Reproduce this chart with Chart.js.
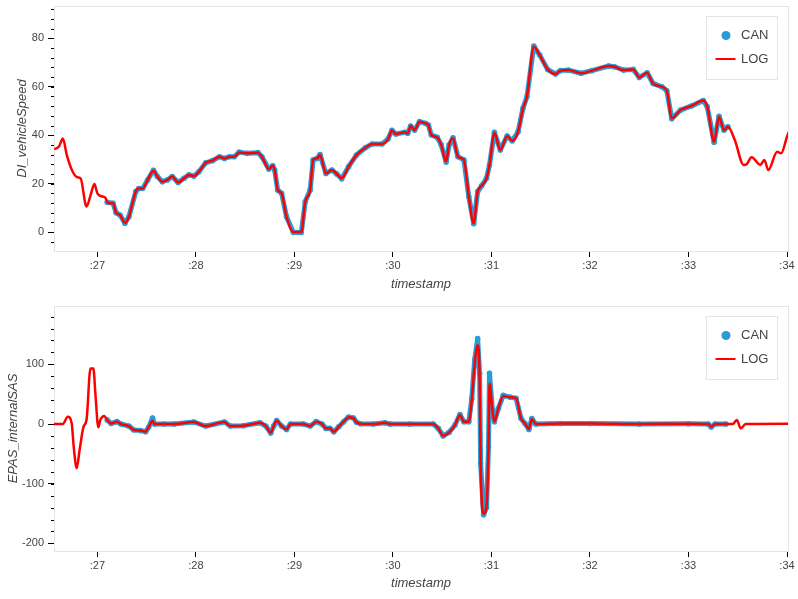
<!DOCTYPE html>
<html>
<head>
<meta charset="utf-8">
<script src="https://cdn.jsdelivr.net/npm/chart.js@4.4.1/dist/chart.umd.min.js"></script>
<style>
  body { margin: 0; background: #fff; }
  canvas { display: block; }
</style>
</head>
<body>
<canvas id="speedChart" width="798" height="300"></canvas>
<canvas id="sasChart" width="798" height="299"></canvas>
<script>
// seconds past the minute
const xTickValues = [27, 28, 29, 30, 31, 32, 33, 34];
const xTickLabels = [":27", ":28", ":29", ":30", ":31", ":32", ":33", ":34"];

const speedTicks = [0, 20, 40, 60, 80];
const sasTicks = [-200, -100, 0, 100];

// DI_vehicleSpeed, LOG
const logSpeedTime = [26.56, 26.61, 26.65, 26.69, 26.75, 26.80, 26.83, 26.89, 26.93, 26.97, 27.00, 27.03, 27.08, 27.11, 27.16, 27.19, 27.23, 27.28, 27.32, 27.39, 27.42, 27.46, 27.51, 27.57, 27.61, 27.66, 27.71, 27.76, 27.82, 27.88, 27.93, 27.98, 28.03, 28.10, 28.17, 28.24, 28.29, 28.34, 28.39, 28.44, 28.52, 28.63, 28.67, 28.74, 28.78, 28.80, 28.83, 28.87, 28.92, 28.99, 29.07, 29.11, 29.16, 29.19, 29.23, 29.26, 29.32, 29.38, 29.43, 29.48, 29.55, 29.63, 29.72, 29.79, 29.89, 29.95, 29.99, 30.03, 30.12, 30.15, 30.18, 30.22, 30.27, 30.33, 30.36, 30.39, 30.45, 30.49, 30.54, 30.57, 30.61, 30.66, 30.72, 30.77, 30.82, 30.86, 30.90, 30.95, 30.98, 31.03, 31.09, 31.16, 31.21, 31.27, 31.32, 31.36, 31.43, 31.49, 31.57, 31.65, 31.70, 31.78, 31.91, 32.02, 32.19, 32.25, 32.34, 32.44, 32.50, 32.58, 32.64, 32.73, 32.78, 32.83, 32.92, 33.03, 33.15, 33.19, 33.26, 33.31, 33.36, 33.40, 33.47, 33.56, 33.59, 33.64, 33.73, 33.77, 33.81, 33.90, 33.94, 34.00, 34.04];
const logSpeed = [34.2, 35.3, 38.6, 31.8, 24.9, 22.6, 22.2, 10.5, 15.0, 19.8, 16.0, 14.9, 14.2, 11.9, 11.9, 8.0, 7.0, 3.8, 6.3, 16.7, 18.0, 18.0, 21.5, 25.3, 22.9, 20.8, 21.5, 22.9, 20.5, 22.2, 23.6, 23.1, 24.9, 28.6, 29.5, 31.1, 30.4, 31.1, 31.1, 32.9, 32.5, 32.8, 31.1, 26.0, 27.4, 25.6, 17.4, 16.0, 6.3, 0, 0, 12.5, 17.4, 29.8, 30.4, 31.8, 24.2, 25.6, 24.0, 22.2, 27.0, 31.8, 34.8, 36.4, 36.4, 38.4, 41.9, 40.5, 41.2, 40.8, 43.8, 42.1, 45.6, 44.9, 44.2, 40.1, 39.1, 36.0, 29.1, 36.0, 38.7, 31.1, 29.8, 14.6, 3.6, 16.7, 19.1, 22.2, 27.7, 41.0, 33.9, 39.7, 37.7, 41.4, 51.1, 55.9, 76.6, 73.1, 67.2, 65.3, 66.7, 66.9, 65.6, 66.7, 68.6, 68.3, 66.9, 67.2, 63.9, 65.8, 61.4, 60.0, 58.4, 47.0, 50.4, 52.1, 54.3, 51.8, 37.3, 47.6, 42.1, 43.5, 38.0, 27.7, 28.0, 30.9, 27.7, 29.8, 25.6, 33.2, 32.5, 39.4, 43.5];

// DI_vehicleSpeed, CAN
const canSpeedTime = [27.10, 27.16, 27.19, 27.23, 27.28, 27.32, 27.39, 27.42, 27.46, 27.51, 27.57, 27.61, 27.66, 27.71, 27.76, 27.82, 27.88, 27.93, 27.98, 28.03, 28.10, 28.17, 28.24, 28.29, 28.34, 28.39, 28.44, 28.52, 28.63, 28.67, 28.74, 28.78, 28.80, 28.83, 28.87, 28.92, 28.99, 29.07, 29.11, 29.16, 29.19, 29.23, 29.26, 29.32, 29.38, 29.43, 29.48, 29.55, 29.63, 29.72, 29.79, 29.89, 29.95, 29.99, 30.03, 30.12, 30.15, 30.18, 30.22, 30.27, 30.33, 30.36, 30.39, 30.45, 30.49, 30.54, 30.57, 30.61, 30.66, 30.72, 30.77, 30.82, 30.86, 30.90, 30.95, 30.98, 31.03, 31.09, 31.16, 31.21, 31.27, 31.32, 31.36, 31.43, 31.49, 31.57, 31.65, 31.70, 31.78, 31.91, 32.02, 32.19, 32.25, 32.34, 32.44, 32.50, 32.58, 32.64, 32.73, 32.78, 32.83, 32.92, 33.03, 33.15, 33.19, 33.26, 33.31, 33.36, 33.40];
const canSpeed = [12.3, 11.9, 8.0, 7.0, 3.6, 6.3, 16.7, 18.0, 18.0, 21.5, 25.5, 22.9, 20.8, 21.5, 22.9, 20.5, 22.2, 23.6, 23.1, 24.9, 28.6, 29.5, 31.1, 30.4, 31.1, 31.1, 33.0, 32.5, 32.8, 31.1, 26.0, 27.4, 25.6, 17.4, 16.0, 6.3, -0.2, -0.2, 12.5, 17.4, 29.8, 30.4, 32.0, 24.2, 25.6, 24.0, 22.0, 27.0, 31.8, 34.8, 36.4, 36.4, 38.4, 42.0, 40.5, 41.2, 40.8, 43.8, 42.1, 45.6, 44.9, 44.2, 40.1, 39.1, 36.0, 28.9, 36.0, 38.9, 31.1, 29.8, 14.6, 3.4, 16.7, 19.1, 22.2, 27.7, 41.2, 33.9, 39.7, 37.7, 41.4, 51.1, 55.9, 76.8, 73.1, 67.2, 65.3, 66.7, 66.9, 65.6, 66.7, 68.6, 68.3, 66.9, 67.2, 63.9, 65.8, 61.4, 60.0, 58.4, 46.8, 50.4, 52.1, 54.3, 51.8, 37.1, 47.8, 42.1, 43.5];

// EPAS_internalSAS, LOG
const logSasTime = [26.56, 26.65, 26.70, 26.74, 26.76, 26.79, 26.82, 26.86, 26.89, 26.93, 26.96, 26.98, 27.01, 27.03, 27.07, 27.10, 27.14, 27.20, 27.24, 27.32, 27.37, 27.44, 27.49, 27.52, 27.56, 27.58, 27.68, 27.78, 27.98, 28.10, 28.29, 28.35, 28.48, 28.65, 28.71, 28.76, 28.79, 28.82, 28.87, 28.92, 28.96, 29.09, 29.16, 29.22, 29.28, 29.32, 29.36, 29.40, 29.45, 29.50, 29.55, 29.60, 29.63, 29.67, 29.80, 29.92, 29.97, 30.17, 30.41, 30.46, 30.51, 30.57, 30.63, 30.68, 30.72, 30.77, 30.80, 30.83, 30.86, 30.88, 30.89, 30.92, 30.95, 30.97, 30.98, 31.01, 31.03, 31.07, 31.12, 31.19, 31.25, 31.30, 31.34, 31.38, 31.41, 31.45, 31.70, 32.00, 32.50, 33.00, 33.20, 33.23, 33.27, 33.45, 33.49, 33.53, 33.58, 34.02];
const logSas = [0, 0, 12.3, 1, -38, -74, -43.5, -4.5, 6.7, 93, 93, 51, -5.6, 6.7, 13.4, 6.7, 1, 4, 0, -3.4, -10, -11, -12.8, -5.6, 5, 0, 0, 0, 3.4, -3.4, 3.4, -3.4, -3, 2.2, -3.4, -14.5, -3.4, 5.6, -3.4, -8.9, 0, 0, -3.4, 3.9, 0, -7.3, -7, -12.8, -4.5, 3.9, 11.2, 10, 3, 0.5, 0, 2, 0, 0, 0, -7.3, -19.5, -14, -1.7, 15, 3.9, 3.9, 40, 101.6, 132, 79, -66, -150, -138, -38, 68, 23.5, 3.9, 26, 47, 44.7, 43, 9.5, 1, -8.4, 8.4, 0, 1, 1, 0, 0.5, 0, -4.5, 0, 0, 6.7, -7.3, 0, 0.5];

// EPAS_internalSAS, CAN
const canSasTime = [27.10, 27.14, 27.20, 27.24, 27.32, 27.37, 27.44, 27.49, 27.52, 27.56, 27.58, 27.68, 27.78, 27.98, 28.10, 28.29, 28.35, 28.48, 28.65, 28.71, 28.76, 28.79, 28.82, 28.87, 28.92, 28.96, 29.09, 29.16, 29.22, 29.28, 29.32, 29.36, 29.40, 29.45, 29.50, 29.55, 29.60, 29.63, 29.67, 29.80, 29.92, 29.97, 30.17, 30.41, 30.46, 30.51, 30.57, 30.63, 30.68, 30.72, 30.77, 30.80, 30.83, 30.86, 30.88, 30.89, 30.92, 30.95, 30.97, 30.98, 31.01, 31.03, 31.07, 31.12, 31.19, 31.25, 31.30, 31.34, 31.38, 31.41, 31.45, 31.70, 32.00, 32.50, 33.00, 33.20, 33.23, 33.27, 33.38];
const canSas = [6.7, 1, 4, 0, -3.4, -10, -11, -12.8, -5.6, 10, 0, 0, 0, 3.4, -3.4, 3.4, -3.4, -3, 2.2, -3.4, -15, -3.4, 6, -3.4, -9, 0, 0, -3.4, 4, 0, -7.3, -7, -13, -4.5, 3.9, 11.5, 10, 3, 0.5, 0, 2, 0, 0, 0, -7.3, -20, -14, -1.7, 16, 3.9, 3.9, 42, 108, 143, 85, -66, -152, -140, -38, 85, 23.5, 3.9, 26, 48, 45, 43, 9.5, 1, -9, 9, 0, 1, 1, 0, 0.5, 0, -5, 0, 0];

const canColor = "#2b9bd7";
const logColor = "#ff0000";

function pts(xs, ys) {
  return xs.map((x, i) => ({ x: x, y: ys[i] }));
}

Chart.defaults.font.family = "'Liberation Sans', Arial, Helvetica, sans-serif";
Chart.defaults.color = "#444";

// outline, minor ticks and the boxed legend
const bokehLook = {
  id: "bokehLook",
  beforeDatasetsDraw(chart, args, opts) {
    const a = chart.chartArea;
    const ctx = chart.ctx;
    ctx.save();
    ctx.strokeStyle = "#e5e5e5";
    ctx.lineWidth = 1;
    ctx.strokeRect(a.left + 0.5, a.top + 0.5, a.right - a.left, a.bottom - a.top);
    ctx.restore();
  },
  afterDraw(chart, args, opts) {
    const ctx = chart.ctx;
    const y = chart.scales.y;
    const a = chart.chartArea;
    ctx.save();
    ctx.strokeStyle = "#000";
    ctx.lineWidth = 1;
    for (let v = opts.minorFrom; v <= opts.minorTo; v += opts.minorStep) {
      const py = Math.round(y.getPixelForValue(v)) + 0.5;
      ctx.beginPath();
      ctx.moveTo(a.left - 3, py);
      ctx.lineTo(a.left, py);
      ctx.stroke();
    }
    // legend
    const bx = a.right - 81.5, by = a.top + 10.5;
    ctx.fillStyle = "#fff";
    ctx.fillRect(bx, by, 71, 63);
    ctx.strokeStyle = "#e5e5e5";
    ctx.strokeRect(bx, by, 71, 63);
    ctx.fillStyle = canColor;
    ctx.beginPath();
    ctx.arc(bx + 19.5, by + 19, 4.5, 0, Math.PI * 2);
    ctx.fill();
    ctx.strokeStyle = logColor;
    ctx.lineWidth = 2;
    ctx.beginPath();
    ctx.moveTo(bx + 9, by + 42.5);
    ctx.lineTo(bx + 29, by + 42.5);
    ctx.stroke();
    ctx.fillStyle = "#444";
    ctx.font = "13px 'Liberation Sans', Arial, sans-serif";
    ctx.textBaseline = "middle";
    ctx.fillText(chart.data.datasets[0].label, bx + 34.5, by + 19);
    ctx.fillText(chart.data.datasets[1].label, bx + 34.5, by + 42.5);
    ctx.restore();
  }
};

function makeChart(el, canData, logData, yMin, yMax, yTicks, yTitle, titlePad, xHeight, minor) {
  return new Chart(el, {
    type: "line",
    data: {
      datasets: [
        {
          label: "CAN",
          data: canData,
          borderColor: canColor,
          backgroundColor: canColor,
          borderWidth: 5,
          borderJoinStyle: "round",
          borderCapStyle: "round",
          pointRadius: 2.8,
          pointBorderWidth: 0,
          order: 1,
        },
        {
          label: "LOG",
          data: logData,
          borderColor: logColor,
          borderWidth: 2.5,
          borderJoinStyle: "round",
          cubicInterpolationMode: "monotone",
          pointRadius: 0,
          order: 0,
        },
      ],
    },
    options: {
      responsive: false,
      animation: false,
      devicePixelRatio: 1,
      layout: { padding: { top: 6, right: 10, left: 0, bottom: 0 } },
      plugins: {
        legend: { display: false },
        tooltip: { enabled: false },
        bokehLook: minor,
      },
      scales: {
        x: {
          type: "linear",
          min: 26.56,
          max: 34.01,
          afterBuildTicks: (s) => { s.ticks = xTickValues.map((v) => ({ value: v })); },
          afterFit: (s) => { s.height = xHeight; },
          ticks: {
            autoSkip: false,
            maxRotation: 0,
            padding: 2,
            font: { size: 11 },
            callback: (v) => xTickLabels[xTickValues.indexOf(v)],
          },
          grid: { drawOnChartArea: false, tickLength: 6, tickColor: "#000" },
          border: { color: "#000" },
          title: {
            display: true,
            text: "timestamp",
            font: { size: 13, style: "italic" },
            padding: { top: 0, bottom: 8 },
          },
        },
        y: {
          min: yMin,
          max: yMax,
          afterBuildTicks: (s) => { s.ticks = yTicks.map((v) => ({ value: v })); },
          afterFit: (s) => {
            s.width = 54;
            s.paddingTop = 0;
            s.paddingBottom = 0;
          },
          ticks: { padding: 4, font: { size: 11 } },
          grid: { drawOnChartArea: false, tickLength: 6, tickColor: "#000" },
          border: { color: "#000" },
          title: {
            display: true,
            text: yTitle,
            font: { size: 13, style: "italic" },
            padding: { top: titlePad, bottom: 0 },
          },
        },
      },
    },
    plugins: [bokehLook],
  });
}

makeChart(document.getElementById("speedChart"),
  pts(canSpeedTime, canSpeed), pts(logSpeedTime, logSpeed),
  -7.85, 93.4, speedTicks, "DI_vehicleSpeed", 15, 49,
  { minorFrom: -4, minorTo: 92, minorStep: 4 });

makeChart(document.getElementById("sasChart"),
  pts(canSasTime, canSas), pts(logSasTime, logSas),
  -212.7, 197.7, sasTicks, "EPAS_internalSAS", 6, 48,
  { minorFrom: -200, minorTo: 180, minorStep: 20 });
</script>
</body>
</html>
